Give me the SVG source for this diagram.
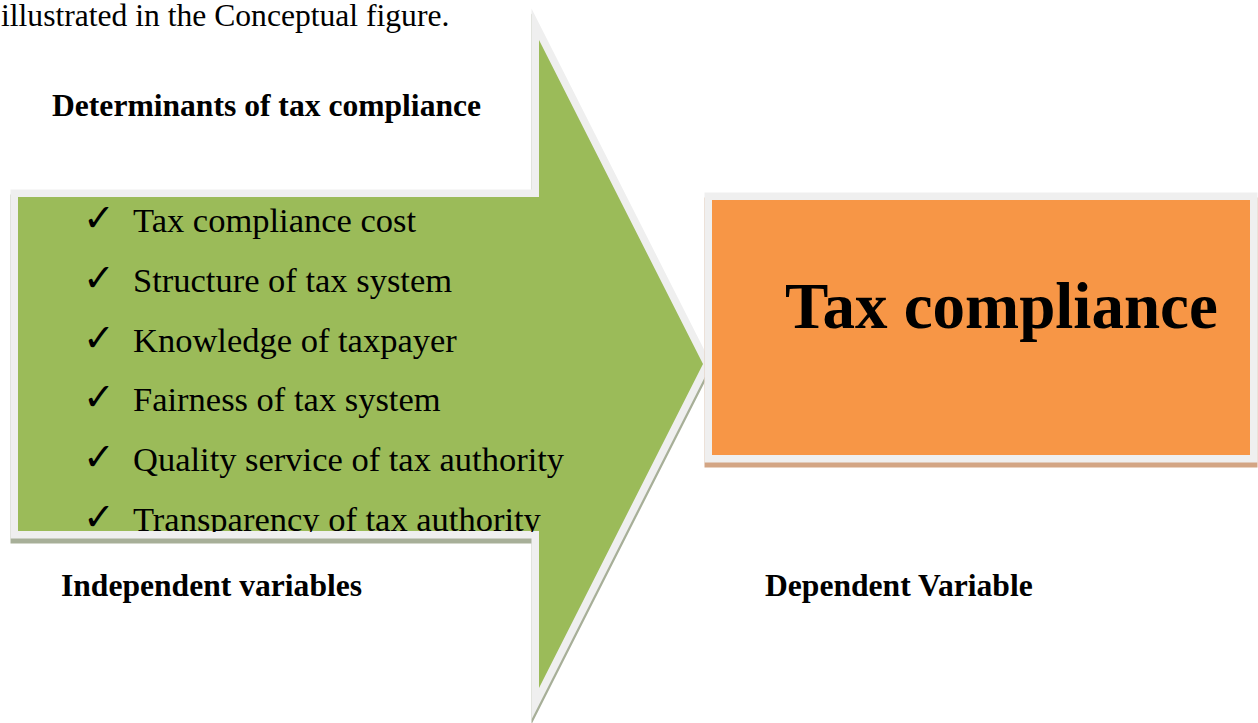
<svg xmlns="http://www.w3.org/2000/svg" width="1258" height="723" viewBox="0 0 1258 723">
  <style>
    .serif { font-family: "Liberation Serif", "Times New Roman", serif; fill: #000; }
    .head { font-size: 31.6px; font-weight: bold; }
    .item { font-size: 34.5px; }
    .tick { font-family: "DejaVu Sans", sans-serif; font-size: 38px; fill: #000; }
    .frame { stroke: #efefef; stroke-width: 15; stroke-linejoin: miter; stroke-miterlimit: 10; paint-order: stroke; }
    .shadow { stroke-width: 15; stroke-linejoin: miter; stroke-miterlimit: 10; }
  </style>
  <defs>
    <!-- block arrow: shaft on the left, head pointing right -->
    <path id="arrowShape" d="M18,197 H539 V40 L703,364 L539,688 V531 H18 Z"/>
    <clipPath id="listClip">
      <rect x="0" y="180" width="700" height="352"/>
    </clipPath>
  </defs>

  <rect width="1258" height="723" fill="#ffffff"/>

  <!-- lead-in sentence -->
  <text class="serif" x="1" y="26" font-size="31.6">illustrated in the Conceptual figure.</text>

  <!-- independent variables: green block arrow with checklist -->
  <g id="determinants">
    <use href="#arrowShape" transform="translate(0,5)" class="shadow" fill="#a7af98" stroke="#a7af98"/>
    <use href="#arrowShape" class="frame" fill="#9bbb59"/>
    <g clip-path="url(#listClip)">
      <text class="tick" x="83" y="231">✓</text>
      <text class="serif item" x="133" y="232">Tax compliance cost</text>
      <text class="tick" x="83" y="291">✓</text>
      <text class="serif item" x="133" y="292">Structure of tax system</text>
      <text class="tick" x="83" y="351">✓</text>
      <text class="serif item" x="133" y="352">Knowledge of taxpayer</text>
      <text class="tick" x="83" y="410">✓</text>
      <text class="serif item" x="133" y="411">Fairness of tax system</text>
      <text class="tick" x="83" y="470">✓</text>
      <text class="serif item" x="133" y="471">Quality service of tax authority</text>
      <text class="tick" x="83" y="530">✓</text>
      <text class="serif item" x="133" y="531">Transparency of tax authority</text>
    </g>
  </g>

  <!-- dependent variable: orange box -->
  <g id="outcome">
    <rect x="712" y="200" width="538" height="255" transform="translate(0,5)" class="shadow" fill="#d3a584" stroke="#d3a584"/>
    <rect x="712" y="200" width="538" height="255" class="frame" fill="#f79646"/>
    <text class="serif" x="785" y="328" font-size="65" font-weight="bold">Tax compliance</text>
  </g>

  <!-- captions -->
  <g id="captions">
    <text class="serif head" x="52" y="116">Determinants of tax compliance</text>
    <text class="serif head" x="61" y="596">Independent variables</text>
    <text class="serif head" x="765" y="596">Dependent Variable</text>
  </g>
</svg>
